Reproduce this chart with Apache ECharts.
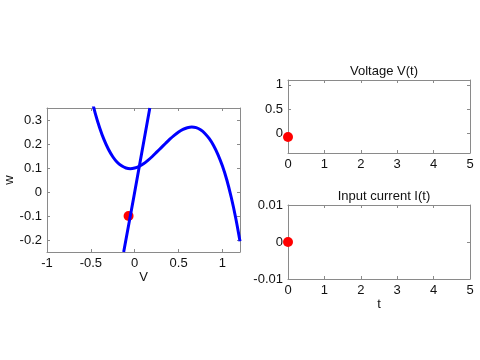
<!DOCTYPE html>
<html>
<head>
<meta charset="utf-8">
<script src="https://cdn.jsdelivr.net/npm/echarts@6/dist/echarts.min.js"></script>
<style>html,body{margin:0;padding:0;background:#fff}#c{width:480px;height:360px}</style>
</head>
<body>
<div id="c"></div>
<script>
// Phase plane: cubic V-nullcline
const cubicV = [-0.5,-0.45,-0.4,-0.35,-0.3,-0.25,-0.2,-0.15,-0.1,-0.05,0,0.05,0.1,0.15,0.2,0.25,0.3,0.35,0.4,0.45,0.5,0.55,0.6,0.65,0.7,0.75,0.8,0.85,0.9,0.95,1.0,1.05,1.1,1.15,1.2];
const cubicW = [0.400,0.328,0.268,0.218,0.178,0.147,0.124,0.109,0.100,0.097,0.100,0.107,0.118,0.132,0.148,0.166,0.184,0.202,0.220,0.236,0.250,0.261,0.268,0.271,0.268,0.259,0.244,0.222,0.193,0.155,0.108,0.050,-0.022,-0.106,-0.205];
// Phase plane: linear w-nullcline
const lineV = [-0.126,-0.011,0.172];
const lineW = [-0.25,-0.022,0.35];
// Current state
const stateV = [-0.07];
const stateW = [-0.1];
const stateT = [0];
const stateI = [0];
// Ticks
const phaseXTicks = [-1,-0.5,0,0.5,1];
const phaseYTicks = [-0.2,-0.1,0,0.1,0.2,0.3];
const tTicks = [0,1,2,3,4,5];
const vTicks = [0,0.5,1];
const iTicks = [-0.01,0,0.01];

const FONT = 'Liberation Sans';
const AX = '#8a8a8a';
const TXT = '#111';

function axis(gridIndex, position, min, max, ticks, labels, extra) {
  return Object.assign({
    type: 'value', gridIndex, position, min, max,
    axisLine: {show: true, onZero: false, lineStyle: {color: AX, width: 1}},
    axisTick: {show: true, inside: true, length: 3, customValues: ticks, lineStyle: {color: AX}},
    axisLabel: {show: labels, customValues: ticks, color: TXT, fontFamily: FONT, fontSize: 13,
      margin: 5, formatter: v => String(+(+v).toFixed(4))},
    splitLine: {show: false},
    nameTextStyle: {color: TXT, fontFamily: FONT, fontSize: 13}
  }, extra || {});
}

const grids = [
  {left: 47, top: 108, width: 193, height: 144},
  {left: 288, top: 80, width: 182, height: 73},
  {left: 288, top: 205, width: 182, height: 74}
];

const xAxes = [
  axis(0, 'bottom', -1, 1.2, phaseXTicks, true, {name: 'V', nameLocation: 'middle', nameGap: 17}),
  axis(0, 'top', -1, 1.2, phaseXTicks, false),
  axis(1, 'bottom', 0, 5, tTicks, true),
  axis(1, 'top', 0, 5, tTicks, false),
  axis(2, 'bottom', 0, 5, tTicks, true, {name: 't', nameLocation: 'middle', nameGap: 19}),
  axis(2, 'top', 0, 5, tTicks, false)
];
const yAxes = [
  axis(0, 'left', -0.25, 0.35, phaseYTicks, true, {name: 'w', nameLocation: 'middle', nameGap: 30, nameRotate: 90}),
  axis(0, 'right', -0.25, 0.35, phaseYTicks, false),
  axis(1, 'left', -0.4, 1.1, vTicks, true),
  axis(1, 'right', -0.4, 1.1, vTicks, false),
  axis(2, 'left', -0.01, 0.01, iTicks, true),
  axis(2, 'right', -0.01, 0.01, iTicks, false)
];

const cubicData = cubicV.map((v, i) => [v, cubicW[i]]);
const lineData = lineV.map((v, i) => [v, lineW[i]]);
const dotStyle = {color: '#ff0000', opacity: 1};

const chart = echarts.init(document.getElementById('c'), null, {renderer: 'canvas'});
chart.setOption({
  animation: false,
  backgroundColor: '#fff',
  title: [
    {text: 'Voltage V(t)', left: 379, top: 60, textAlign: 'center',
     textStyle: {fontFamily: FONT, fontSize: 13, fontWeight: 'normal', color: TXT}},
    {text: 'Input current I(t)', left: 379, top: 185, textAlign: 'center',
     textStyle: {fontFamily: FONT, fontSize: 13, fontWeight: 'normal', color: TXT}}
  ],
  grid: grids,
  xAxis: xAxes,
  yAxis: yAxes,
  series: [
    {type: 'line', xAxisIndex: 0, yAxisIndex: 0, data: cubicData, smooth: 0.3, showSymbol: false,
     clip: true, lineStyle: {color: '#0000ff', width: 3}},
    {type: 'line', xAxisIndex: 0, yAxisIndex: 0, data: lineData, showSymbol: false,
     clip: true, lineStyle: {color: '#0000ff', width: 3}},
    {type: 'scatter', xAxisIndex: 0, yAxisIndex: 0, data: stateV.map((v, i) => [v, stateW[i]]),
     symbolSize: 10, clip: false, itemStyle: dotStyle},
    {type: 'scatter', xAxisIndex: 2, yAxisIndex: 2, data: stateT.map((t, i) => [t, stateV[i]]),
     symbolSize: 10, clip: false, itemStyle: dotStyle},
    {type: 'scatter', xAxisIndex: 4, yAxisIndex: 4, data: stateT.map((t, i) => [t, stateI[i]]),
     symbolSize: 10, clip: false, itemStyle: dotStyle}
  ]
});
</script>
</body>
</html>
